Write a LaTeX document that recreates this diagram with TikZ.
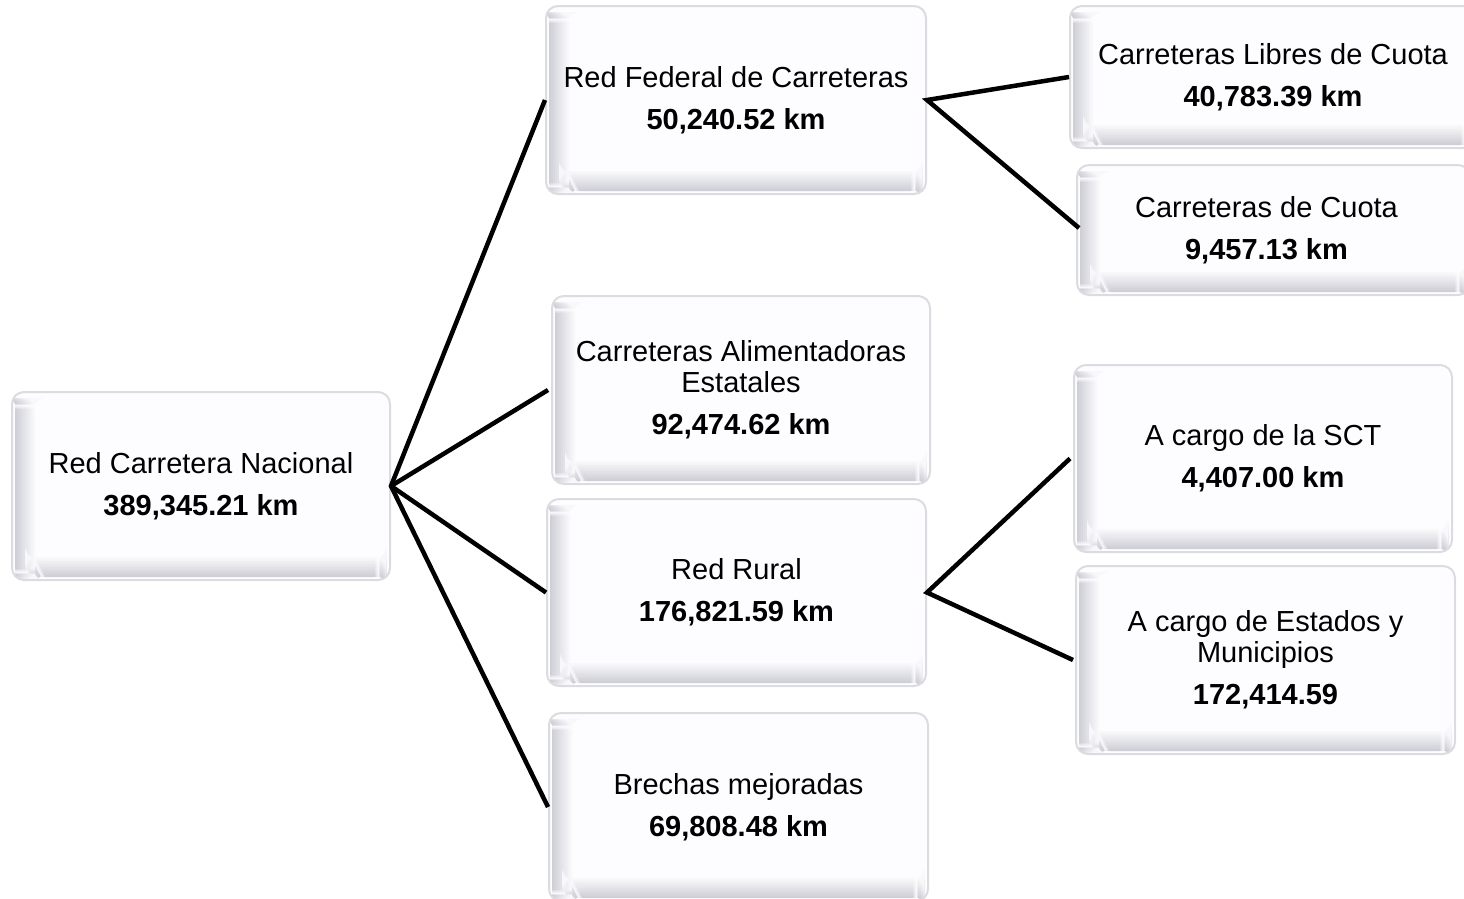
\documentclass[tikz,border=0pt]{standalone}
\usepackage{fontspec}
\setmainfont{Liberation Sans}
\usetikzlibrary{positioning}
\definecolor{boxfill}{HTML}{FDFDFF}
\definecolor{boxline}{HTML}{DCDCE0}
\definecolor{bevel}{HTML}{CFCFD7}
\tikzset{
  bbox/.style={rounded corners=12pt, draw=boxline, line width=2pt, fill=boxfill,
    align=center, inner sep=0pt, font=\fontsize{29}{31}\selectfont,
    path picture={
      \foreach \i in {0,...,9} {
        \pgfmathsetmacro{\pc}{100-10*\i}
        \fill[bevel!\pc!boxfill]
          ([xshift={3+2*\i}]path picture bounding box.south west) rectangle ([xshift={5+2*\i},yshift=-6]path picture bounding box.north west);
        \fill[bevel!\pc!boxfill]
          ([xshift={22-\i},yshift={3+2*\i}]path picture bounding box.south west) rectangle ([xshift=-4,yshift={5+2*\i}]path picture bounding box.south east);
      }
    }},
  conn/.style={line width=4.5pt, black}
}
\newcommand{\gapline}{\\[11pt]}
\begin{document}
\begin{tikzpicture}[x=1pt,y=-1pt]
\useasboundingbox (0,0) rectangle (1464,898);
\begin{scope}
\clip (0,0) rectangle (1464,898);
\node[bbox, minimum width=378pt, minimum height=188pt] (root) at (201,486)
  {Red Carretera Nacional\gapline\textbf{389,345.21 km}};
\node[bbox, minimum width=380pt, minimum height=188pt] (fed) at (736,100)
  {Red Federal de Carreteras\gapline\textbf{50,240.52 km}};
\node[bbox, minimum width=378pt, minimum height=188pt] (ali) at (741,390)
  {Carreteras Alimentadoras\\Estatales\gapline\textbf{92,474.62 km}};
\node[bbox, minimum width=379pt, minimum height=187pt] (rur) at (736.5,592.5)
  {Red Rural\gapline\textbf{176,821.59 km}};
\node[bbox, minimum width=379pt, minimum height=188pt] (bre) at (738.5,807)
  {Brechas mejoradas\gapline\textbf{69,808.48 km}};
\node[bbox, minimum width=406pt, minimum height=142pt] (lib) at (1273,77)
  {Carreteras Libres de Cuota\gapline\textbf{40,783.39 km}};
\node[bbox, minimum width=393pt, minimum height=130pt] (cuo) at (1273.5,230)
  {\hspace*{-14pt}Carreteras de Cuota\gapline\hspace*{-14pt}\textbf{9,457.13 km}};
\node[bbox, minimum width=378pt, minimum height=187pt] (sct) at (1263,458.5)
  {A cargo de la SCT\gapline\textbf{4,407.00 km}};
\node[bbox, minimum width=379pt, minimum height=188pt] (est) at (1265.5,660)
  {A cargo de Estados y\\Municipios\gapline\textbf{172,414.59}};
\end{scope}
\draw[conn] (fed.west) -- (root.east) -- (bre.west);
\draw[conn] (root.east) -- ([xshift=-3pt]ali.west);
\draw[conn] (root.east) -- (rur.west);
\draw[conn] (lib.west) -- (fed.east) -- ([xshift=3pt,yshift=2pt]cuo.west);
\draw[conn] ([xshift=-3pt]sct.west) -- (rur.east) -- ([xshift=-2pt]est.west);
\end{tikzpicture}
\end{document}
